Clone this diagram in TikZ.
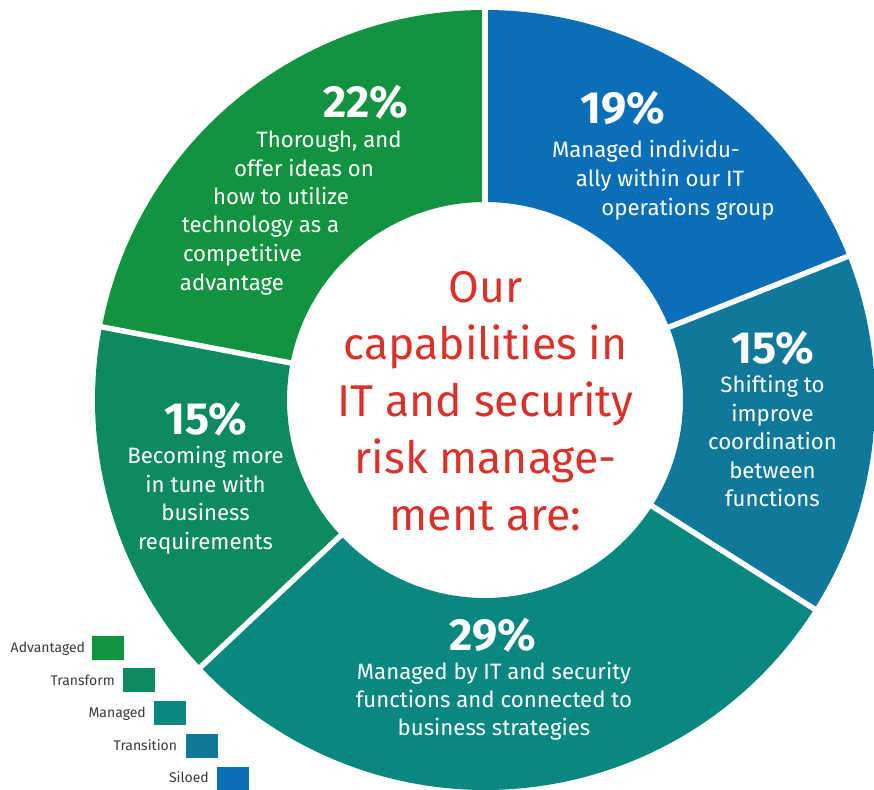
\documentclass[tikz,border=0pt]{standalone}
\usepackage{fontspec}
\setmainfont{Fira Sans}
\definecolor{adv}{HTML}{12933F}
\definecolor{transf}{HTML}{0D8A5E}
\definecolor{manag}{HTML}{0A8781}
\definecolor{trans}{HTML}{10799B}
\definecolor{silo}{HTML}{0B6EB8}
\definecolor{redtxt}{HTML}{D9322B}
\definecolor{legtxt}{HTML}{3A3A3A}
\begin{document}
\begin{tikzpicture}[x=1pt,y=-1pt,
  pct/.style={text=white,inner sep=0pt,anchor=base,font=\fontsize{45}{45}\selectfont\bfseries},
  desc/.style={text=white,inner sep=0pt,anchor=base,font=\fontsize{22.2}{28.5}\selectfont},
  centertxt/.style={text=redtxt,inner sep=0pt,align=center,font=\fontsize{44.5}{57}\selectfont},
  legsq/.style={minimum width=32pt,minimum height=24pt,inner sep=0pt,draw=none},
  leglab/.style={text=legtxt,inner sep=0pt,anchor=base east,font=\fontsize{14}{16}\selectfont}]
\useasboundingbox (0,0) rectangle (874,789);
\fill[white] (0,0) rectangle (874,789);
% donut
\begin{scope}[shift={(485,400)}]
\foreach \a/\b/\c in {-90/-21.6/silo,-21.6/32.4/trans,32.4/136.8/manag,136.8/190.8/transf,190.8/270/adv}
  \fill[\c] (\a:390) arc[start angle=\a,end angle=\b,radius=390] -- (\b:198) arc[start angle=\b,end angle=\a,radius=198] -- cycle;
\foreach \a in {-90,-21.6,32.4,136.8,190.8}
  \draw[white,line width=5.5pt] (\a:190) -- (\a:400);
\end{scope}
% centre text
\node[centertxt,anchor=base] (c1) at (485.5,302.7) {Our};
\node[centertxt,anchor=base] (c2) at (485.5,359.7) {capabilities in};
\node[centertxt,anchor=base] (c3) at (485.5,416.2) {IT and security};
\node[centertxt,anchor=base] (c4) at (485.5,473) {risk manage-};
\node[centertxt,anchor=base] (c5) at (485.5,530) {ment are:};
% 22%
\node[pct] (p22) at (366,117.3) {22\%};
\node[desc] (d22a) at (329,147.7) {Thorough, and};
\node[desc] (d22b) at (304,176) {offer ideas on};
\node[desc] (d22c) at (281,204) {how to utilize};
\node[desc] (d22d) at (260.5,232.5) {technology as a};
\node[desc] (d22e) at (242.5,261.5) {competitive};
\node[desc] (d22f) at (232,290) {advantage};
% 19%
\node[pct] (p19) at (622.5,123.3) {19\%};
\node[desc] (d19a) at (646,157.3) {Managed individu-};
\node[desc] (d19b) at (660,186.5) {ally within our IT};
\node[desc] (d19c) at (688,215) {operations group};
% 15% right
\node[pct] (p15r) at (773,363.3) {15\%};
\node[desc] (d15ra) at (772.5,392.7) {Shifting to};
\node[desc] (d15rb) at (772.5,421) {improve};
\node[desc] (d15rc) at (772.5,449.5) {coordination};
\node[desc] (d15rd) at (772.5,478.3) {between};
\node[desc] (d15re) at (772.5,506.7) {functions};
% 15% left
\node[pct] (p15l) at (206,434) {15\%};
\node[desc] (d15la) at (205.5,463.3) {Becoming more};
\node[desc] (d15lb) at (205.5,492) {in tune with};
\node[desc] (d15lc) at (205.5,520.5) {business};
\node[desc] (d15ld) at (205.5,549) {requirements};
% 29%
\node[pct] (p29) at (493,650) {29\%};
\node[desc] (d29a) at (494,679) {Managed by IT and security};
\node[desc] (d29b) at (494,707) {functions and connected to};
\node[desc] (d29c) at (494,735) {business strategies};
% legend
\node[legsq,fill=adv] (sqadv) at (108,648) {};
\node[legsq,fill=transf] (sqtransf) at (139,679.7) {};
\node[legsq,fill=manag] (sqmanag) at (170,713) {};
\node[legsq,fill=trans] (sqtrans) at (202,745.9) {};
\node[legsq,fill=silo] (sqsilo) at (233,779) {};
\node[leglab] (ladv) at (85.3,652.3) {Advantaged};
\node[leglab] (ltransf) at (115,685) {Transform};
\node[leglab] (lmanag) at (146,717.3) {Managed};
\node[leglab] (ltrans) at (177.3,750) {Transition};
\node[leglab] (lsilo) at (209,782.3) {Siloed};
\end{tikzpicture}
\end{document}
